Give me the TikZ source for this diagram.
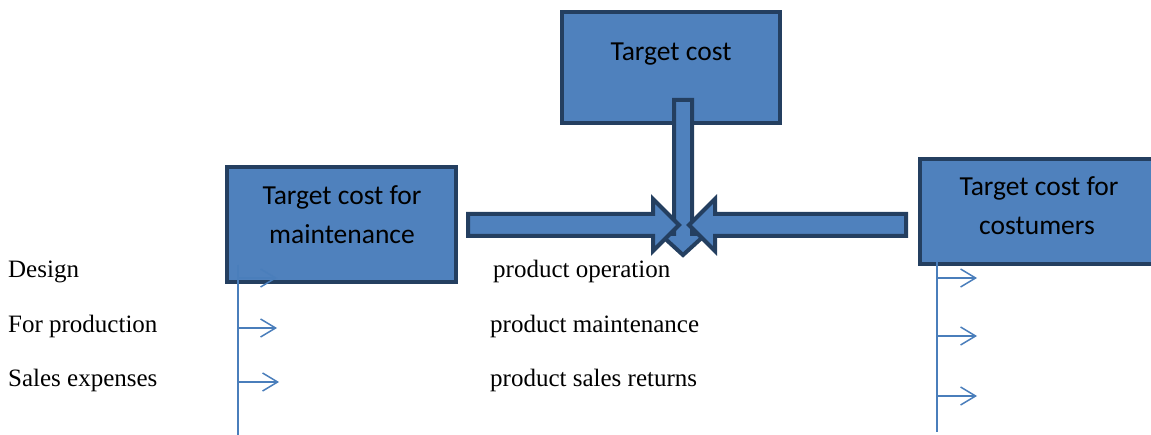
\documentclass[tikz,border=0pt]{standalone}
\usepackage{fontspec}
\setmainfont{Liberation Serif}
\newfontfamily\boxfont{Carlito}
\usetikzlibrary{arrows.meta}
\definecolor{boxfill}{HTML}{4F81BD}
\definecolor{boxline}{HTML}{243F60}
\definecolor{linkblue}{HTML}{4A7EBB}

\begin{document}
\begin{tikzpicture}[x=1pt, y=-1pt,
  box/.style={draw=boxline, fill=boxfill, line width=4pt, inner sep=0pt},
  boxtext/.style={font=\boxfont\fontsize{27.5}{32}\selectfont, anchor=base, inner sep=0pt},
  sidetext/.style={font=\fontsize{25}{30}\selectfont, anchor=base west, inner sep=0pt},
  block/.style={draw=boxline, fill=boxfill, line width=4pt, line join=miter},
  link/.style={draw=linkblue, line width=1.5pt},
  tick/.style={link, -{Straight Barb[length=15pt,width=18pt]}}
]
\useasboundingbox (0,0) rectangle (1151,435);

% cost boxes
\node[box, minimum width=218pt, minimum height=111pt] (tcost) at (671,67.5) {};
\node[box, minimum width=229pt, minimum height=115pt] (tmaint) at (341.5,224.5) {};
\node[box, minimum width=244pt, minimum height=105pt] (tcust) at (1042,211.5) {};

\node[boxtext] (tcost-a) at (671,61) {Target cost};
\node[boxtext] (tmaint-a) at (342,205) {Target cost for};
\node[boxtext] (tmaint-b) at (342,244) {maintenance};
\node[boxtext] (tcust-a) at (1039,196) {Target cost for};
\node[boxtext] (tcust-b) at (1037,235) {costumers};

% block arrows meeting in the middle
\draw[block] (674,100) -- (692,100) -- (692,234) -- (706,234) -- (683,255)
  -- (660,234) -- (674,234) -- cycle;
\draw[block] (468,214) -- (653,214) -- (653,199) -- (679,225) -- (653,251)
  -- (653,236) -- (468,236) -- cycle;
\draw[block] (906,214) -- (715,214) -- (715,199) -- (689,225) -- (715,251)
  -- (715,236) -- (906,236) -- cycle;

% left branch
\coordinate (ltop) at (238,265);
\coordinate (lbot) at (238,435);
\draw[link] (ltop) -- (lbot);
\foreach \y/\tip [count=\i] in {278/277, 328/277, 382/279} {
  \coordinate (lfrom\i) at (238,\y);
  \coordinate (lto\i) at (\tip,\y);
  \draw[tick] (lfrom\i) -- (lto\i);
}

% right branch
\coordinate (rtop) at (937,262);
\coordinate (rbot) at (937,432);
\draw[link] (rtop) -- (rbot);
\foreach \y [count=\i] in {278, 336, 396} {
  \coordinate (rfrom\i) at (937,\y);
  \coordinate (rto\i) at (977,\y);
  \draw[tick] (rfrom\i) -- (rto\i);
}

% item labels
\node[sidetext] (design) at (8,278) {Design};
\node[sidetext] (forprod) at (8,333) {For production};
\node[sidetext] (sales) at (8,386) {Sales expenses};
\node[sidetext] (operation) at (493,278) {product operation};
\node[sidetext] (maint) at (490,333) {product maintenance};
\node[sidetext] (returns) at (490,386) {product sales returns};
\end{tikzpicture}
\end{document}
